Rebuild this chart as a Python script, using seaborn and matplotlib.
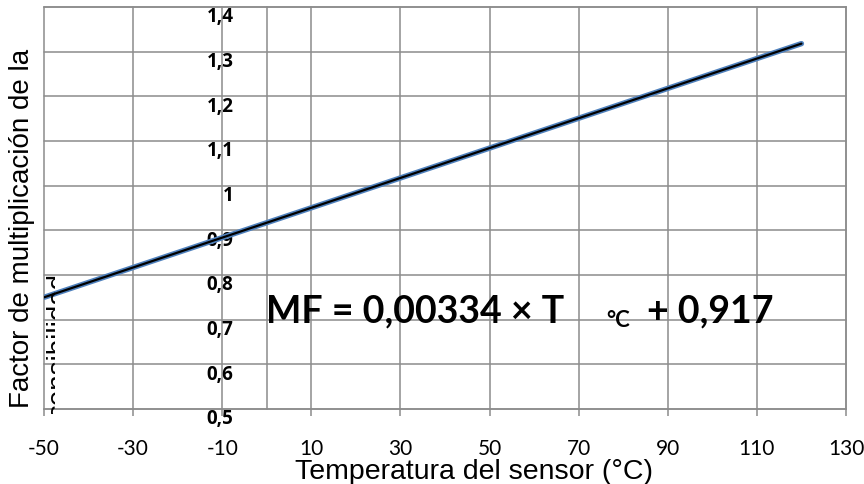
import numpy as np
import pandas as pd
import seaborn as sns
import matplotlib.pyplot as plt
import matplotlib.transforms as mtransforms

# datos
temperatura = [-50, 120]
factor_mf = [0.750, 1.318]
x_ticks = [-50, -30, -10, 10, 30, 50, 70, 90, 110, 130]
y_ticks = [0.5, 0.6, 0.7, 0.8, 0.9, 1.0, 1.1, 1.2, 1.3, 1.4]
y_labels = ["0,5", "0,6", "0,7", "0,8", "0,9", "1", "1,1", "1,2", "1,3", "1,4"]

sns.set_style("white")
plt.rcParams["font.family"] = ["Liberation Sans", "DejaVu Sans"]
plt.rcParams["text.color"] = "black"
plt.rcParams["axes.labelcolor"] = "black"
plt.rcParams["xtick.color"] = "black"
plt.rcParams["ytick.color"] = "black"

gris = "#8c8c8c"

fig = plt.figure(figsize=(8.64, 4.85), dpi=100)
ax = fig.add_axes([44 / 864, 75 / 485, 802 / 864, 402 / 485])

data = pd.DataFrame({"T": temperatura, "MF": factor_mf})
sns.lineplot(data=data, x="T", y="MF", ax=ax, color="#4f81bd", linewidth=3.9, zorder=3)
sns.lineplot(data=data, x="T", y="MF", ax=ax, color="black", linewidth=1.6, zorder=4)

ax.set_xlim(-50, 130)
ax.set_ylim(0.5, 1.4)

ax.grid(True, color=gris, linewidth=1.1)

for lado in ["top", "right", "bottom"]:
    ax.spines[lado].set_color(gris)
    ax.spines[lado].set_linewidth(1.1)
ax.spines["left"].set_position(("data", 0))
ax.spines["left"].set_color(gris)
ax.spines["left"].set_linewidth(1.1)

ax.tick_params(axis="x", direction="out", length=5, width=1.1, color=gris,
               labelcolor="black", pad=16, bottom=True)
ax.tick_params(axis="y", length=0, pad=24, labelcolor="black")

ax.set_xticks(x_ticks)
ax.set_xticklabels([str(v) for v in x_ticks])
ax.set_yticks(y_ticks)
ax.set_yticklabels(y_labels)

for lbl in ax.get_xticklabels():
    lbl.set_fontfamily("Lato")
    lbl.set_fontsize(15)

# etiquetas del eje y en negrita y un poco por debajo de la linea
desplaza = mtransforms.ScaledTranslation(0, -7 / 100, fig.dpi_scale_trans)
for lbl in ax.get_yticklabels():
    lbl.set_fontfamily("Open Sans")
    lbl.set_fontweight("bold")
    lbl.set_fontsize(13.5)
    lbl.set_transform(lbl.get_transform() + desplaza)

for gl in ax.get_xgridlines() + ax.get_ygridlines():
    gl.set_clip_on(False)

ax.set_xlabel("Temperatura del sensor (°C)", fontsize=20.5, color="black")
ax.set_ylabel("Factor de multiplicación de la", fontsize=20, color="black")
ax.xaxis.set_label_coords((474 - 44) / 802, (410 - 485) / 402)
ax.yaxis.set_label_coords((35 - 44) / 802, (410 - 228) / 402)
ax.xaxis.label.set_verticalalignment("bottom")

# segunda linea de la etiqueta, recortada en una franja estrecha
sens = fig.text(59 / 864, 1 - 345 / 485, "sensibilidad", rotation=90, fontsize=20,
                ha="center", va="center", color="black")
sens.set_clip_box(mtransforms.Bbox([[45, 485 - 415], [55, 485 - 272]]))
sens.set_clip_on(True)

# ecuacion
fig.text(266 / 864, 1 - 322 / 485, "MF = 0,00334 × T", fontfamily="Lato",
         fontweight="bold", fontsize=27, ha="left", va="baseline", color="black")
fig.text(606 / 864, 1 - 327 / 485, "°C", fontfamily="Lato",
         fontweight="bold", fontsize=16, ha="left", va="baseline", color="black")
fig.text(647 / 864, 1 - 322 / 485, "+ 0,917", fontfamily="Lato",
         fontweight="bold", fontsize=27, ha="left", va="baseline", color="black")

plt.savefig("out.png", dpi=100)
